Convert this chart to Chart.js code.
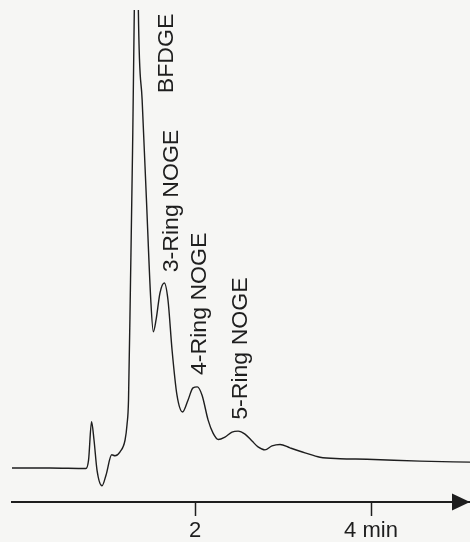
<!DOCTYPE html>
<html>
<head>
<meta charset="utf-8">
<script src="https://cdn.jsdelivr.net/npm/chart.js@4/dist/chart.umd.min.js"></script>
<style>
  html, body { margin: 0; padding: 0; background: #f6f6f4; }
  #wrap { width: 470px; height: 542px; }
</style>
</head>
<body>
<div id="wrap"><canvas id="chromChart"></canvas></div>
<script>
// Chromatogram data (retention time in min, detector signal in arbitrary units)
const times = [
  -0.08, 0.35, 0.76, 0.79, 0.824, 0.852, 0.886, 0.943, 0.989, 1.053,
  1.09, 1.148, 1.205, 1.227, 1.244, 1.267, 1.29, 1.31, 1.333, 1.356,
  1.399, 1.448, 1.497, 1.526, 1.557, 1.602, 1.651, 1.693, 1.739, 1.795,
  1.858, 1.92, 1.977, 2.026, 2.08, 2.148, 2.205, 2.265, 2.34, 2.42,
  2.49, 2.568, 2.648, 2.716, 2.795, 2.875, 2.966, 3.08, 3.25, 3.42,
  3.648, 3.955, 4.557, 5.125
];
const signal = [
  6.9, 6.9, 6.8, 8.5, 16.3, 12.6, 6.5, 3.3, 5.5, 9.6,
  9.4, 10.2, 12.6, 15.7, 20.7, 45.1, 71.5, 100, 150, 100,
  81.7, 61.4, 41.1, 34.6, 37, 42.5, 44.5, 41, 30.9, 21.7,
  18.3, 20.7, 23.2, 23.4, 21.7, 16.7, 14, 12.7, 13.2, 14.2,
  14.4, 13.8, 12.4, 11.2, 10.6, 11.4, 11.7, 11, 10, 9.1,
  8.8, 8.7, 8.3, 8.1
];

// Axis ticks
const tickValues = [2, 4];
const tickLabels = ['2', '4 min'];

// Peak annotations
const peakNames = ['BFDGE', '3-Ring NOGE', '4-Ring NOGE', '5-Ring NOGE'];
const labelTimes = [1.745, 1.801, 2.13, 2.596];
const labelSignals = [83.1, 46.7, 25.8, 16.7];

const ink = '#1e1e1e';
const fontFamily = '"Liberation Sans", Arial, Helvetica, sans-serif';

// Vertical peak labels
const peakLabelPlugin = {
  id: 'peakLabels',
  afterDatasetsDraw(chart) {
    const ctx = chart.ctx;
    const xs = chart.scales.x;
    const ys = chart.scales.y;
    ctx.save();
    ctx.fillStyle = ink;
    ctx.font = '22px ' + fontFamily;
    ctx.textAlign = 'left';
    ctx.textBaseline = 'alphabetic';
    peakNames.forEach((name, i) => {
      ctx.save();
      ctx.translate(xs.getPixelForValue(labelTimes[i]), ys.getPixelForValue(labelSignals[i]));
      ctx.rotate(-Math.PI / 2);
      ctx.scale(1.05, 1);
      ctx.fillText(name, 0, 0);
      ctx.restore();
    });
    ctx.restore();
  }
};

// Arrow head on the time axis
const axisArrowPlugin = {
  id: 'axisArrow',
  afterDraw(chart) {
    const ctx = chart.ctx;
    const area = chart.chartArea;
    const x = area.right;
    const y = area.bottom;
    ctx.save();
    ctx.fillStyle = ink;
    ctx.beginPath();
    ctx.moveTo(x - 18, y - 8.5);
    ctx.lineTo(x, y);
    ctx.lineTo(x - 18, y + 8.5);
    ctx.closePath();
    ctx.fill();
    ctx.restore();
  }
};

const points = times.map((t, i) => ({ x: t, y: signal[i] }));

new Chart(document.getElementById('chromChart'), {
  type: 'line',
  data: {
    datasets: [{
      data: points,
      borderColor: ink,
      borderWidth: 1.4,
      pointRadius: 0,
      fill: false,
      cubicInterpolationMode: 'monotone'
    }]
  },
  options: {
    responsive: true,
    maintainAspectRatio: false,
    animation: false,
    layout: { padding: { left: 12, right: 0, top: 10, bottom: 0 } },
    plugins: {
      legend: { display: false },
      tooltip: { enabled: false }
    },
    scales: {
      x: {
        type: 'linear',
        min: -0.08,
        max: 5.125,
        afterBuildTicks(scale) {
          scale.ticks = tickValues.map(v => ({ value: v }));
        },
        afterFit(scale) {
          scale.height = 40;
        },
        grid: {
          drawOnChartArea: false,
          drawTicks: true,
          tickLength: 14,
          tickWidth: 1.5,
          tickColor: ink
        },
        border: { display: true, color: ink, width: 2 },
        ticks: {
          autoSkip: false,
          maxRotation: 0,
          padding: 2,
          color: ink,
          font: { family: fontFamily, size: 22 },
          callback: (value) => {
            const i = tickValues.indexOf(value);
            return i >= 0 ? tickLabels[i] : '';
          }
        }
      },
      y: {
        display: false,
        min: 0,
        max: 100
      }
    }
  },
  plugins: [peakLabelPlugin, axisArrowPlugin]
});
</script>
</body>
</html>
